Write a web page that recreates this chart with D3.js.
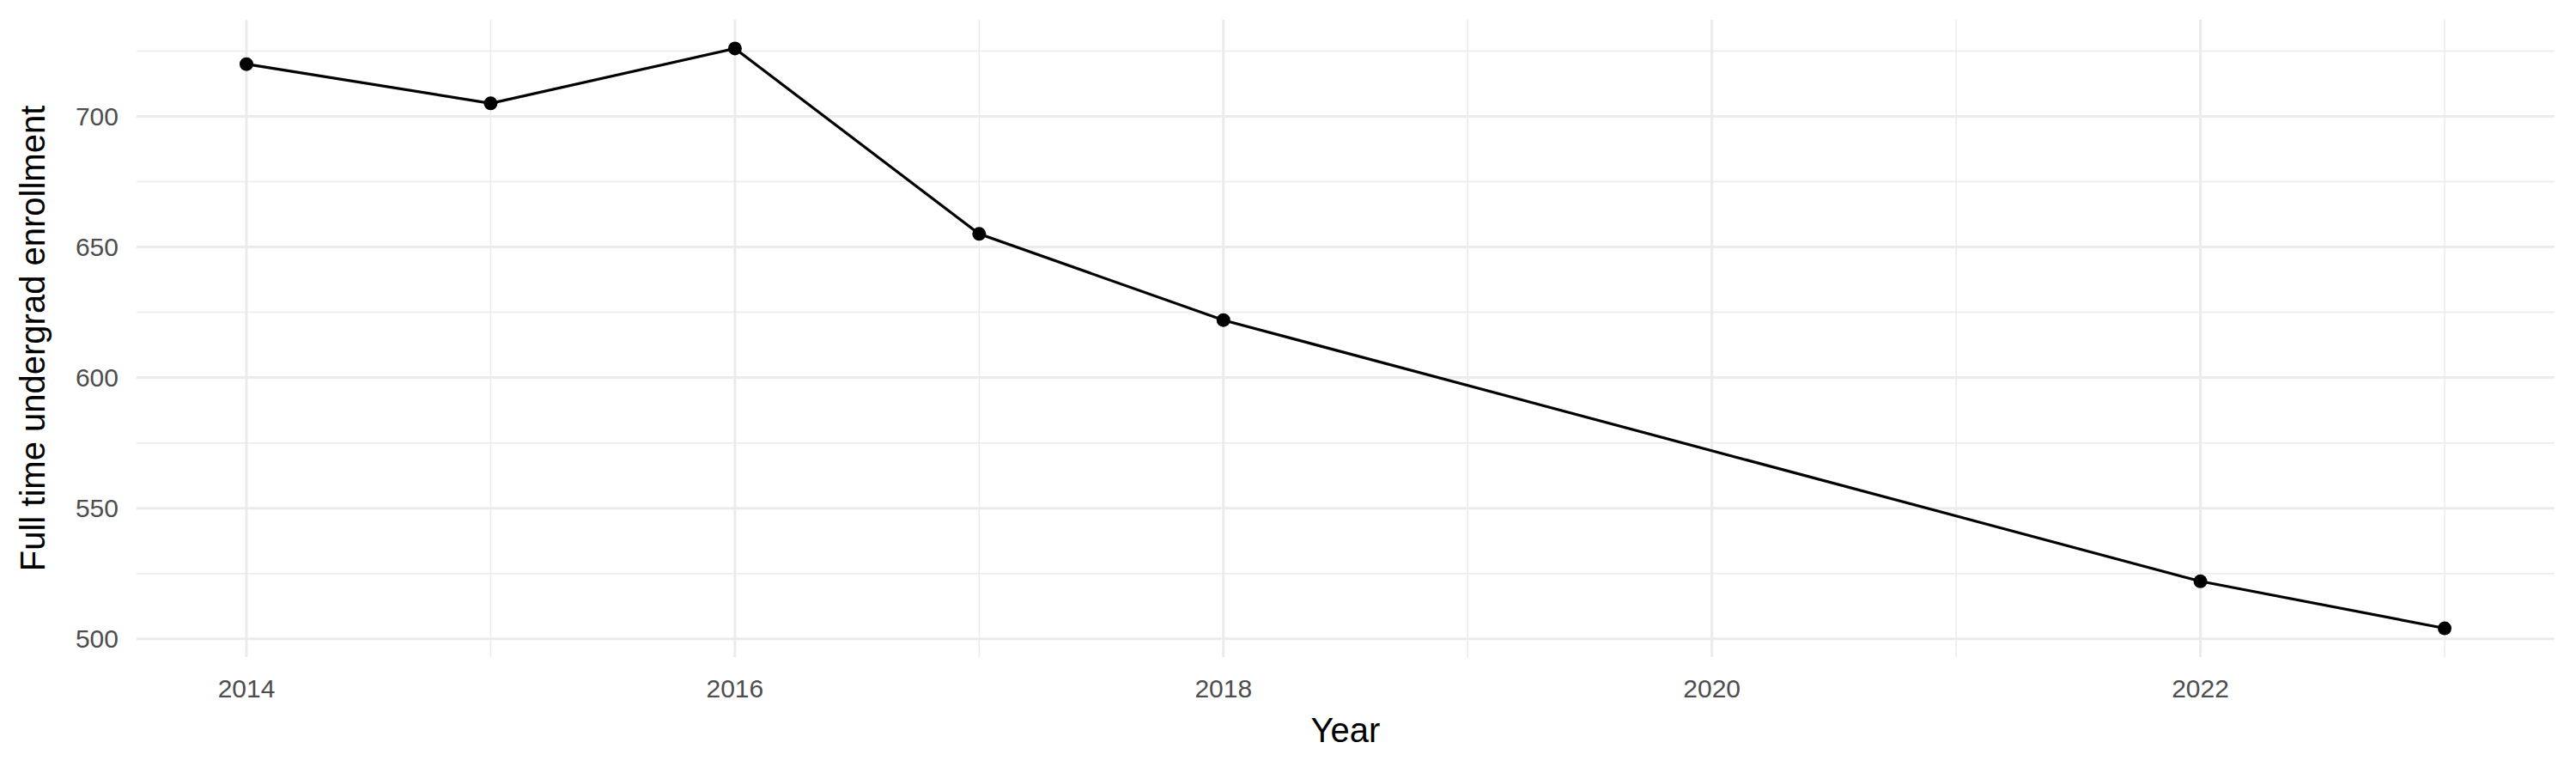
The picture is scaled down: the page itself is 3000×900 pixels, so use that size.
<!DOCTYPE html>
<html><head><meta charset="utf-8">
<script src="https://cdn.jsdelivr.net/npm/d3@7"></script>
<style>body{margin:0;background:#fff}text{font-family:"Liberation Sans",Arial,sans-serif}</style>
</head><body><svg id="c" width="3000" height="900"></svg>
<script>
var years = [2014, 2015, 2016, 2017, 2018, 2022, 2023];
var enroll = [720, 705, 726, 655, 622, 522, 504];
var xTicks = [2014, 2016, 2018, 2020, 2022];
var xMinor = [2015, 2017, 2019, 2021, 2023];
var yTicks = [500, 550, 600, 650, 700];
var yMinor = [525, 575, 625, 675, 725];

var svg = d3.select("#c");
var x = d3.scaleLinear().domain([2013.55, 2023.45]).range([159, 2975]);
var y = d3.scaleLinear().domain([493, 737]).range([765, 23]);

var g = svg.append("g");
g.selectAll("line.ymin").data(yMinor).enter().append("line")
  .attr("x1", 159).attr("x2", 2975).attr("y1", y).attr("y2", y)
  .attr("stroke", "#ebebeb").attr("stroke-width", 1.5);
g.selectAll("line.xmin").data(xMinor).enter().append("line")
  .attr("y1", 23).attr("y2", 765).attr("x1", x).attr("x2", x)
  .attr("stroke", "#ebebeb").attr("stroke-width", 1.5);
g.selectAll("line.ymaj").data(yTicks).enter().append("line")
  .attr("x1", 159).attr("x2", 2975).attr("y1", y).attr("y2", y)
  .attr("stroke", "#ebebeb").attr("stroke-width", 3);
g.selectAll("line.xmaj").data(xTicks).enter().append("line")
  .attr("y1", 23).attr("y2", 765).attr("x1", x).attr("x2", x)
  .attr("stroke", "#ebebeb").attr("stroke-width", 3);

g.selectAll("text.yt").data(yTicks).enter().append("text")
  .attr("x", 138).attr("y", y).attr("dy", "0.35em").attr("text-anchor", "end")
  .attr("font-size", 30).attr("fill", "#4d4d4d").text(function(d){ return d; });
g.selectAll("text.xt").data(xTicks).enter().append("text")
  .attr("x", x).attr("y", 812).attr("text-anchor", "middle")
  .attr("font-size", 30).attr("fill", "#4d4d4d").text(function(d){ return d; });

var data = years.map(function(d, i){ return {year: d, v: enroll[i]}; });
svg.append("path").datum(data)
  .attr("d", d3.line().x(function(d){ return x(d.year); }).y(function(d){ return y(d.v); }))
  .attr("fill", "none").attr("stroke", "#000").attr("stroke-width", 3.2);
svg.selectAll("circle").data(data).enter().append("circle")
  .attr("cx", function(d){ return x(d.year); }).attr("cy", function(d){ return y(d.v); })
  .attr("r", 8).attr("fill", "#000");

svg.append("text").attr("x", x(2018.5)).attr("y", 864).attr("text-anchor", "middle")
  .attr("font-size", 40).text("Year");
svg.append("text").attr("transform", "translate(52," + 394 + ") rotate(-90)")
  .attr("text-anchor", "middle").attr("font-size", 40).text("Full time undergrad enrollment");
</script></body></html>
